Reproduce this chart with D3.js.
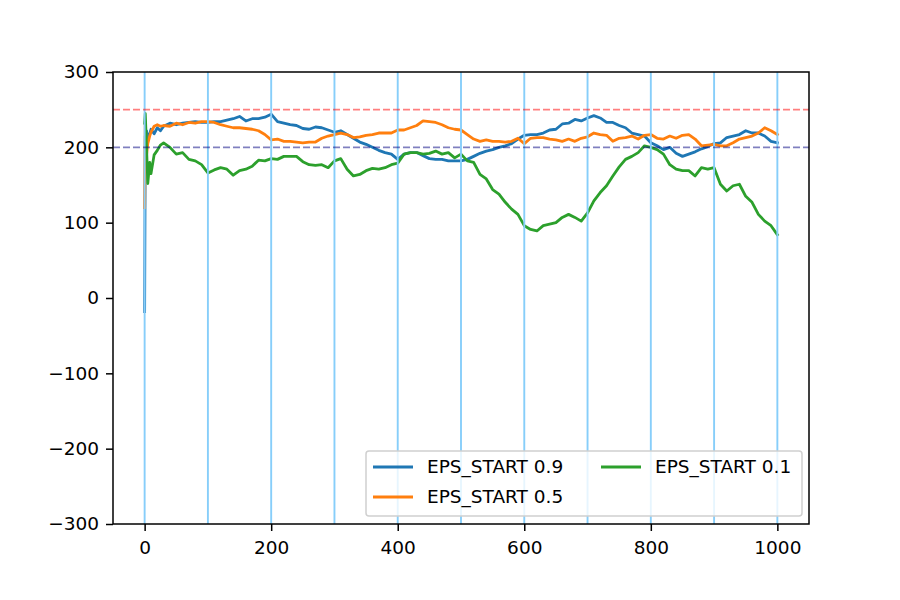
<!DOCTYPE html>
<html lang="en">
  <head>
    <meta charset="UTF-8" />
    <title>EPS_START comparison</title>
    <script src="https://d3js.org/d3.v7.min.js"></script>
    <style>
      body { margin: 0; background: #fff; }
      text { font-family: "DejaVu Sans", sans-serif; }
    </style>
  </head>
  <body>
    <svg width="900" height="600"></svg>
    <script>
      // x positions of the readings (episodes)
      var epsX = [0, 1, 3, 5, 8, 10, 15, 20, 25, 30].concat(d3.range(40, 1001, 10));

      // EPS_START 0.9
      var eps09 = [-18, 215, 222, 210, 218, 224, 218, 226, 222, 228,
        232, 230, 232, 233, 234, 233, 233, 234, 234, 236,
        238, 241, 235, 238, 238, 240, 244, 234, 232, 230,
        229, 225, 224, 227, 226, 223, 220, 222, 217, 212,
        207, 204, 200, 196, 193, 191, 184, 191, 193, 193,
        189, 185, 184, 184, 182, 182, 182, 184, 188, 192,
        195, 197, 200, 202, 205, 211, 216, 217, 217, 219,
        223, 224, 231, 232, 237, 235, 239, 242, 239, 233,
        233, 229, 226, 219, 217, 215, 206, 202, 197, 200,
        192, 188, 191, 194, 198, 201, 205, 206, 213, 215,
        217, 222, 219, 219, 215, 208, 206];

      // EPS_START 0.5
      var eps05 = [120, 235, 190, 205, 215, 220, 228, 230, 228, 229,
        228, 232, 230, 233, 232, 234, 234, 233, 230, 228,
        226, 226, 225, 224, 222, 217, 210, 211, 208, 208,
        207, 206, 207, 207, 212, 215, 217, 219, 217, 213,
        214, 216, 217, 219, 219, 219, 223, 223, 226, 229,
        235, 234, 233, 230, 226, 224, 223, 217, 211, 208,
        210, 208, 208, 207, 208, 212, 205, 212, 213, 213,
        211, 210, 208, 211, 208, 212, 214, 219, 217, 216,
        208, 212, 213, 215, 211, 216, 217, 212, 211, 215,
        212, 216, 217, 211, 202, 203, 204, 202, 202, 206,
        211, 213, 215, 219, 226, 222, 217];

      // EPS_START 0.1
      var eps01 = [232, 245, 200, 152, 180, 165, 190, 196, 203, 206,
        200, 191, 193, 184, 182, 177, 166, 170, 173, 171,
        163, 169, 171, 175, 183, 182, 185, 184, 188, 188,
        188, 181, 177, 176, 177, 173, 182, 185, 171, 162,
        164, 169, 172, 171, 173, 177, 179, 191, 193, 193,
        191, 192, 195, 191, 193, 186, 191, 182, 180, 164,
        158, 144, 138, 127, 118, 111, 96, 91, 89, 96,
        98, 100, 107, 111, 107, 102, 113, 129, 140, 149,
        162, 174, 184, 188, 193, 202, 200, 197, 191, 177,
        171, 169, 169, 162, 173, 171, 173, 151, 142, 149,
        151, 135, 127, 111, 102, 96, 84];

      var seriesNames = ["EPS_START 0.9", "EPS_START 0.5", "EPS_START 0.1"];
      var seriesValues = [eps09, eps05, eps01];
      var seriesColors = ["#1f77b4", "#ff7f0e", "#2ca02c"];

      var xTicks = [0, 200, 400, 600, 800, 1000];
      var yTicks = [-300, -200, -100, 0, 100, 200, 300];
      var vLines = d3.range(0, 1001, 100);
      var refLines = [{ y: 250, color: "red" }, { y: 200, color: "navy" }];

      var svg = d3.select("svg");
      var margin = { left: 113, right: 809, top: 72, bottom: 524 };
      var fontSize = "18.5px";

      var x = d3.scaleLinear().domain([-50, 1050]).range([margin.left, margin.right]);
      var y = d3.scaleLinear().domain([-300, 300]).range([margin.bottom, margin.top]);

      var line = d3.line()
        .x(function (d) { return x(d[0]); })
        .y(function (d) { return y(d[1]); });

      var plot = svg.append("g");

      seriesValues.forEach(function (vals, i) {
        plot.append("path")
          .datum(epsX.map(function (ep, j) { return [ep, vals[j]]; }))
          .attr("d", line)
          .attr("fill", "none")
          .attr("stroke", seriesColors[i])
          .attr("stroke-width", 2.8)
          .attr("stroke-linejoin", "round")
          .attr("stroke-linecap", "square");
      });

      // vertical markers every 100 episodes (drawn on top like axvline)
      plot.selectAll(".vline")
        .data(vLines)
        .join("line")
        .attr("x1", function (d) { return x(d); })
        .attr("x2", function (d) { return x(d); })
        .attr("y1", margin.top)
        .attr("y2", margin.bottom)
        .attr("stroke", "#87cefa")
        .attr("stroke-width", 1.9);

      plot.selectAll(".hline")
        .data(refLines)
        .join("line")
        .attr("x1", margin.left)
        .attr("x2", margin.right)
        .attr("y1", function (d) { return y(d.y); })
        .attr("y2", function (d) { return y(d.y); })
        .attr("stroke", function (d) { return d.color; })
        .attr("stroke-opacity", 0.5)
        .attr("stroke-width", 1.9)
        .attr("stroke-dasharray", "7,3");

      // axes
      var xAxis = svg.append("g")
        .attr("transform", "translate(0," + margin.bottom + ")")
        .call(d3.axisBottom(x).tickValues(xTicks).tickSize(7).tickPadding(10).tickFormat(d3.format("d")));
      var yAxis = svg.append("g")
        .attr("transform", "translate(" + margin.left + ",0)")
        .call(d3.axisLeft(y).tickValues(yTicks).tickSize(7).tickPadding(7).tickFormat(d3.format("d")));

      [xAxis, yAxis].forEach(function (ax) {
        ax.select(".domain").remove();
        ax.selectAll(".tick line").attr("stroke", "#000").attr("stroke-width", 1.5);
        ax.selectAll(".tick text")
          .attr("fill", "#000")
          .attr("font-size", null)
          .style("font-size", fontSize)
          .style("font-family", "DejaVu Sans");
      });
      xAxis.attr("font-size", null);
      yAxis.attr("font-size", null);

      // frame
      svg.append("rect")
        .attr("x", margin.left)
        .attr("y", margin.top)
        .attr("width", margin.right - margin.left)
        .attr("height", margin.bottom - margin.top)
        .attr("fill", "none")
        .attr("stroke", "#000")
        .attr("stroke-width", 1.5);

      // legend
      var legend = svg.append("g");
      legend.append("rect")
        .attr("x", 366).attr("y", 451)
        .attr("width", 436).attr("height", 65)
        .attr("rx", 3)
        .attr("fill", "#fff").attr("fill-opacity", 0.8)
        .attr("stroke", "#d0d0d0").attr("stroke-width", 1.5);

      var legendPos = [[373, 467], [373, 497], [601, 467]];
      seriesNames.forEach(function (name, i) {
        var p = legendPos[i];
        legend.append("line")
          .attr("x1", p[0]).attr("x2", p[0] + 40)
          .attr("y1", p[1]).attr("y2", p[1])
          .attr("stroke", seriesColors[i]).attr("stroke-width", 2.8);
        legend.append("text")
          .attr("x", p[0] + 54).attr("y", p[1])
          .attr("dy", "0.35em")
          .style("font-size", fontSize)
          .text(name);
      });
    </script>
  </body>
</html>
